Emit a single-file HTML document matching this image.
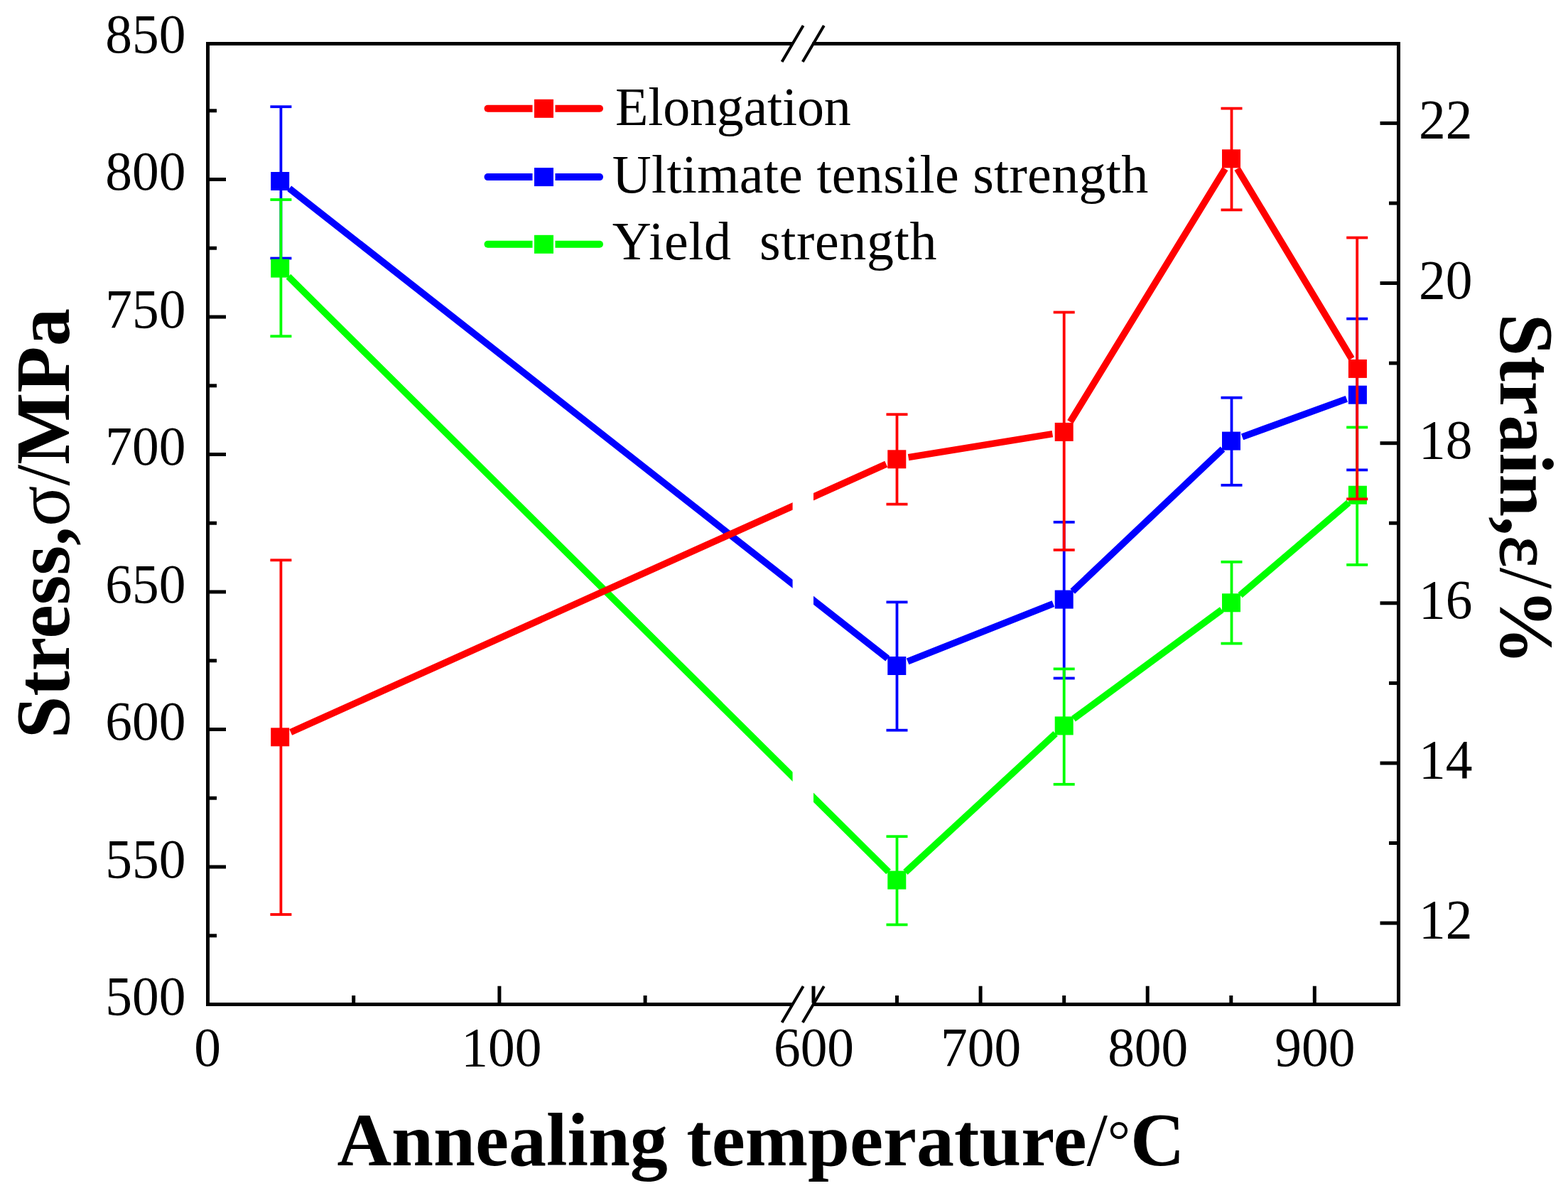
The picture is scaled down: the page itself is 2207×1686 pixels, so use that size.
<!DOCTYPE html>
<html><head><meta charset="utf-8"><title>Annealing temperature vs stress and strain</title>
<style>html,body{margin:0;padding:0;background:#fff;}svg{display:block;}</style>
</head><body>
<svg width="2207" height="1686" viewBox="0 0 2207 1686">
<rect x="0" y="0" width="2207" height="1686" fill="#fff"/>
<g stroke="#000" stroke-width="5" fill="none" stroke-linecap="square">
<line x1="292.5" y1="61.5" x2="292.5" y2="1413.5"/>
<line x1="1968.5" y1="61.5" x2="1968.5" y2="1413.5"/>
<line x1="292.5" y1="61.5" x2="1115.3" y2="61.5" stroke-linecap="butt"/>
<line x1="1143.5" y1="61.5" x2="1968.5" y2="61.5" stroke-linecap="butt"/>
<line x1="292.5" y1="1413.5" x2="1115.3" y2="1413.5" stroke-linecap="butt"/>
<line x1="1143.5" y1="1413.5" x2="1968.5" y2="1413.5" stroke-linecap="butt"/>
</g>
<g stroke="#000" stroke-width="4" stroke-linecap="butt">
<line x1="1100.6" y1="87.1" x2="1130.6" y2="35.9"/>
<line x1="1129.8" y1="87.1" x2="1159.8" y2="35.9"/>
<line x1="1100.6" y1="1439.1" x2="1130.6" y2="1387.9"/>
<line x1="1129.8" y1="1439.1" x2="1159.8" y2="1387.9"/>
</g>
<g stroke="#000" stroke-width="5" stroke-linecap="butt">
<line x1="294.5" y1="1220.0" x2="318" y2="1220.0"/>
<line x1="294.5" y1="1026.5" x2="318" y2="1026.5"/>
<line x1="294.5" y1="833.0" x2="318" y2="833.0"/>
<line x1="294.5" y1="639.5" x2="318" y2="639.5"/>
<line x1="294.5" y1="446.0" x2="318" y2="446.0"/>
<line x1="294.5" y1="252.5" x2="318" y2="252.5"/>
<line x1="294.5" y1="1316.8" x2="305" y2="1316.8"/>
<line x1="294.5" y1="1123.2" x2="305" y2="1123.2"/>
<line x1="294.5" y1="929.8" x2="305" y2="929.8"/>
<line x1="294.5" y1="736.2" x2="305" y2="736.2"/>
<line x1="294.5" y1="542.8" x2="305" y2="542.8"/>
<line x1="294.5" y1="349.2" x2="305" y2="349.2"/>
<line x1="294.5" y1="155.8" x2="305" y2="155.8"/>
<line x1="1966.5" y1="1299.1" x2="1942.5" y2="1299.1"/>
<line x1="1966.5" y1="1074.0" x2="1942.5" y2="1074.0"/>
<line x1="1966.5" y1="848.8" x2="1942.5" y2="848.8"/>
<line x1="1966.5" y1="623.7" x2="1942.5" y2="623.7"/>
<line x1="1966.5" y1="398.5" x2="1942.5" y2="398.5"/>
<line x1="1966.5" y1="173.4" x2="1942.5" y2="173.4"/>
<line x1="1966.5" y1="1186.5" x2="1955" y2="1186.5"/>
<line x1="1966.5" y1="961.4" x2="1955" y2="961.4"/>
<line x1="1966.5" y1="736.2" x2="1955" y2="736.2"/>
<line x1="1966.5" y1="511.1" x2="1955" y2="511.1"/>
<line x1="1966.5" y1="286.0" x2="1955" y2="286.0"/>
<line x1="702.9" y1="1411.5" x2="702.9" y2="1387.7"/>
<line x1="497.7" y1="1411.5" x2="497.7" y2="1401"/>
<line x1="908.1" y1="1411.5" x2="908.1" y2="1401"/>
<line x1="1145.0" y1="1411.5" x2="1145.0" y2="1387.7"/>
<line x1="1380.1" y1="1411.5" x2="1380.1" y2="1387.7"/>
<line x1="1615.2" y1="1411.5" x2="1615.2" y2="1387.7"/>
<line x1="1850.3" y1="1411.5" x2="1850.3" y2="1387.7"/>
<line x1="1262.5" y1="1411.5" x2="1262.5" y2="1401"/>
<line x1="1497.7" y1="1411.5" x2="1497.7" y2="1401"/>
<line x1="1732.8" y1="1411.5" x2="1732.8" y2="1401"/>
</g>
<g font-family="Liberation Serif, Times New Roman, serif" font-size="79" fill="#000">
<text transform="translate(261.5,1428.0) scale(0.955,1)" text-anchor="end">500</text>
<text transform="translate(261.5,1234.5) scale(0.955,1)" text-anchor="end">550</text>
<text transform="translate(261.5,1041.0) scale(0.955,1)" text-anchor="end">600</text>
<text transform="translate(261.5,847.5) scale(0.955,1)" text-anchor="end">650</text>
<text transform="translate(261.5,654.0) scale(0.955,1)" text-anchor="end">700</text>
<text transform="translate(261.5,460.5) scale(0.955,1)" text-anchor="end">750</text>
<text transform="translate(261.5,267.0) scale(0.955,1)" text-anchor="end">800</text>
<text transform="translate(261.5,73.5) scale(0.955,1)" text-anchor="end">850</text>
<text transform="translate(1997.0,1320.1) scale(0.955,1)" text-anchor="start">12</text>
<text transform="translate(1997.0,1095.0) scale(0.955,1)" text-anchor="start">14</text>
<text transform="translate(1997.0,869.8) scale(0.955,1)" text-anchor="start">16</text>
<text transform="translate(1997.0,644.7) scale(0.955,1)" text-anchor="start">18</text>
<text transform="translate(1997.0,419.5) scale(0.955,1)" text-anchor="start">20</text>
<text transform="translate(1997.0,194.4) scale(0.955,1)" text-anchor="start">22</text>
<text transform="translate(292.0,1499.5) scale(0.955,1)" text-anchor="middle">0</text>
<text transform="translate(705.9,1499.5) scale(0.955,1)" text-anchor="middle">100</text>
<text transform="translate(1145.5,1499.5) scale(0.955,1)" text-anchor="middle">600</text>
<text transform="translate(1380.6,1499.5) scale(0.955,1)" text-anchor="middle">700</text>
<text transform="translate(1615.7,1499.5) scale(0.955,1)" text-anchor="middle">800</text>
<text transform="translate(1850.8,1499.5) scale(0.955,1)" text-anchor="middle">900</text>
</g>
<g font-family="Liberation Serif, Times New Roman, serif" font-weight="bold" fill="#000" font-size="107">
<text x="0" y="0" text-anchor="middle" transform="translate(97.2,736.6) rotate(-90)">Stress,<tspan font-weight="normal">σ/</tspan>MPa</text>
<text x="0" y="0" text-anchor="middle" transform="translate(2111.5,688.5) rotate(90)">Strain,<tspan font-weight="normal"><tspan stroke="#000" stroke-width="1.2">ε</tspan>/</tspan>%</text>
<text x="1071" y="1640" font-size="106" text-anchor="middle">Annealing temperature<tspan font-weight="normal">/</tspan><tspan font-weight="normal" font-size="80" dy="-8">°</tspan><tspan dy="8">C</tspan></text>
</g>
<defs><clipPath id="brk"><rect x="0" y="0" width="1115.6" height="1686"/><rect x="1145" y="0" width="1100" height="1686"/></clipPath></defs>
<path d="M407.2,265.2L1249.3,926.8M1277.6,930.9L1482.4,849.7M1509.7,832.2L1721.0,632.0M1748.5,614.9L1895.4,561.4" fill="none" stroke="#0000ff" stroke-width="9.5" clip-path="url(#brk)"/>
<g stroke="#0000ff" stroke-width="3.8">
<line x1="395.4" y1="150.2" x2="395.4" y2="363.5"/>
<line x1="1262.5" y1="847.4" x2="1262.5" y2="1027.7"/>
<line x1="1497.7" y1="734.8" x2="1497.7" y2="954.5"/>
<line x1="1733.5" y1="559.7" x2="1733.5" y2="682.8"/>
<line x1="1910.2" y1="448.6" x2="1910.2" y2="661.4"/>
</g>
<g stroke="#0000ff" stroke-width="3.8">
<line x1="380.4" y1="150.2" x2="410.4" y2="150.2"/>
<line x1="380.4" y1="363.5" x2="410.4" y2="363.5"/>
<line x1="1247.5" y1="847.4" x2="1277.5" y2="847.4"/>
<line x1="1247.5" y1="1027.7" x2="1277.5" y2="1027.7"/>
<line x1="1482.7" y1="734.8" x2="1512.7" y2="734.8"/>
<line x1="1482.7" y1="954.5" x2="1512.7" y2="954.5"/>
<line x1="1718.5" y1="559.7" x2="1748.5" y2="559.7"/>
<line x1="1718.5" y1="682.8" x2="1748.5" y2="682.8"/>
<line x1="1895.2" y1="448.6" x2="1925.2" y2="448.6"/>
<line x1="1895.2" y1="661.4" x2="1925.2" y2="661.4"/>
</g>
<g fill="#0000ff">
<rect x="381.2" y="242.0" width="26" height="26"/>
<rect x="1249.3" y="924.0" width="26" height="26"/>
<rect x="1484.7" y="830.6" width="26" height="26"/>
<rect x="1720.0" y="607.6" width="26" height="26"/>
<rect x="1897.9" y="542.7" width="26" height="26"/>
</g>
<path d="M405.9,389.2L1250.6,1227.0M1274.4,1227.4L1485.6,1032.6M1511.0,1011.6L1719.7,858.1M1745.6,837.6L1898.3,707.4" fill="none" stroke="#00ff00" stroke-width="9.5" clip-path="url(#brk)"/>
<g stroke="#00ff00" stroke-width="3.8">
<line x1="395.4" y1="281.0" x2="395.4" y2="473.2"/>
<line x1="1262.5" y1="1177.2" x2="1262.5" y2="1301.4"/>
<line x1="1497.7" y1="941.4" x2="1497.7" y2="1103.8"/>
<line x1="1733.5" y1="790.8" x2="1733.5" y2="905.6"/>
<line x1="1910.2" y1="601.4" x2="1910.2" y2="794.9"/>
</g>
<g stroke="#00ff00" stroke-width="3.8">
<line x1="380.4" y1="281.0" x2="410.4" y2="281.0"/>
<line x1="380.4" y1="473.2" x2="410.4" y2="473.2"/>
<line x1="1247.5" y1="1177.2" x2="1277.5" y2="1177.2"/>
<line x1="1247.5" y1="1301.4" x2="1277.5" y2="1301.4"/>
<line x1="1482.7" y1="941.4" x2="1512.7" y2="941.4"/>
<line x1="1482.7" y1="1103.8" x2="1512.7" y2="1103.8"/>
<line x1="1718.5" y1="790.8" x2="1748.5" y2="790.8"/>
<line x1="1718.5" y1="905.6" x2="1748.5" y2="905.6"/>
<line x1="1895.2" y1="601.4" x2="1925.2" y2="601.4"/>
<line x1="1895.2" y1="794.9" x2="1925.2" y2="794.9"/>
</g>
<g fill="#00ff00">
<rect x="381.2" y="364.6" width="26" height="26"/>
<rect x="1249.3" y="1225.6" width="26" height="26"/>
<rect x="1484.7" y="1008.4" width="26" height="26"/>
<rect x="1720.0" y="835.3" width="26" height="26"/>
<rect x="1897.9" y="683.7" width="26" height="26"/>
</g>
<path d="M409.2,1030.5L1247.3,653.1M1278.6,643.6L1481.4,610.6M1506.3,593.8L1724.4,237.4M1741.5,237.4L1902.4,504.8" fill="none" stroke="#ff0000" stroke-width="9.5" clip-path="url(#brk)"/>
<g stroke="#ff0000" stroke-width="3.8">
<line x1="395.4" y1="788.3" x2="395.4" y2="1287.0"/>
<line x1="1262.5" y1="583.2" x2="1262.5" y2="709.6"/>
<line x1="1497.7" y1="439.5" x2="1497.7" y2="774.0"/>
<line x1="1733.5" y1="152.6" x2="1733.5" y2="295.4"/>
<line x1="1910.2" y1="334.5" x2="1910.2" y2="702.3"/>
</g>
<g stroke="#ff0000" stroke-width="3.8">
<line x1="380.4" y1="788.3" x2="410.4" y2="788.3"/>
<line x1="380.4" y1="1287.0" x2="410.4" y2="1287.0"/>
<line x1="1247.5" y1="583.2" x2="1277.5" y2="583.2"/>
<line x1="1247.5" y1="709.6" x2="1277.5" y2="709.6"/>
<line x1="1482.7" y1="439.5" x2="1512.7" y2="439.5"/>
<line x1="1482.7" y1="774.0" x2="1512.7" y2="774.0"/>
<line x1="1718.5" y1="152.6" x2="1748.5" y2="152.6"/>
<line x1="1718.5" y1="295.4" x2="1748.5" y2="295.4"/>
<line x1="1895.2" y1="334.5" x2="1925.2" y2="334.5"/>
<line x1="1895.2" y1="702.3" x2="1925.2" y2="702.3"/>
</g>
<g fill="#ff0000">
<rect x="381.2" y="1024.3" width="26" height="26"/>
<rect x="1249.3" y="633.3" width="26" height="26"/>
<rect x="1484.7" y="594.9" width="26" height="26"/>
<rect x="1720.0" y="210.3" width="26" height="26"/>
<rect x="1897.9" y="505.9" width="26" height="26"/>
</g>
<g font-family="Liberation Serif, Times New Roman, serif" font-size="76" fill="#000">
<line x1="686.5" y1="152.8" x2="844" y2="152.8" stroke="#ff0000" stroke-width="10" stroke-linecap="round"/>
<rect x="749.5" y="146.8" width="32" height="12" fill="#fff"/>
<rect x="752" y="139.8" width="27" height="26" fill="#ff0000"/>
<text x="866" y="176.2" letter-spacing="-0.2">Elongation</text>
<line x1="686.5" y1="249.1" x2="844" y2="249.1" stroke="#0000ff" stroke-width="10" stroke-linecap="round"/>
<rect x="749.5" y="243.1" width="32" height="12" fill="#fff"/>
<rect x="752" y="236.1" width="27" height="26" fill="#0000ff"/>
<text x="861.8" y="270.9" letter-spacing="0.3">Ultimate tensile strength</text>
<line x1="686.5" y1="343.8" x2="844" y2="343.8" stroke="#00ff00" stroke-width="10" stroke-linecap="round"/>
<rect x="749.5" y="337.8" width="32" height="12" fill="#fff"/>
<rect x="752" y="330.8" width="27" height="26" fill="#00ff00"/>
<text x="861.8" y="365.0" letter-spacing="0.65">Yield&#160; strength</text>
</g>
</svg>
</body></html>
